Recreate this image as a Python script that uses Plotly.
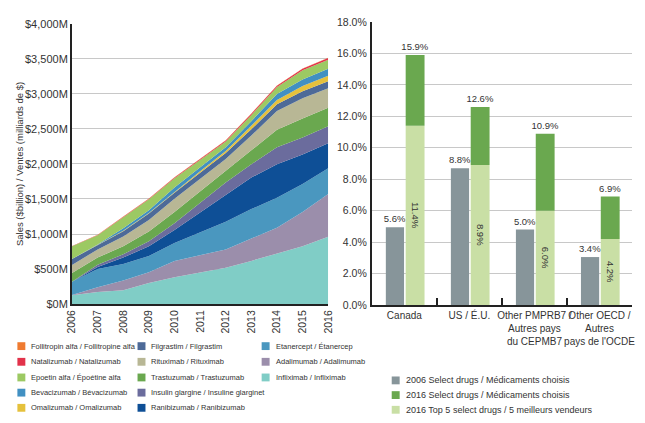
import plotly.graph_objects as go

# ---------------- data ----------------
years = [2006, 2007, 2008, 2009, 2010, 2011, 2012, 2013, 2014, 2015, 2016]

# Sales ($ millions) per drug, stacked bottom -> top
infliximab = [126, 173, 196, 299, 383, 450, 518, 616, 718, 825, 960]
adalimumab = [4, 67, 140, 154, 233, 248, 261, 320, 370, 490, 610]
etanercept = [187, 260, 234, 233, 257, 327, 397, 420, 430, 400, 370]
ranibizumab = [0, 30, 93, 140, 186, 279, 373, 450, 480, 420, 355]
insulin_glargine = [0, 30, 47, 70, 94, 141, 187, 190, 240, 245, 245]
trastuzumab = [126, 103, 116, 140, 163, 163, 163, 200, 250, 270, 265]
rituximab = [116, 116, 140, 163, 187, 180, 172, 210, 270, 290, 275]
filgrastim = [84, 66, 74, 93, 87, 86, 85, 90, 95, 98, 100]
omalizumab = [0, 0, 6, 8, 15, 22, 28, 45, 60, 75, 80]
bevacizumab = [0, 5, 37, 39, 61, 58, 56, 70, 85, 95, 100]
epoetin_alfa = [181, 132, 157, 156, 129, 107, 80, 90, 100, 130, 130]
natalizumab = [3, 5, 7, 10, 12, 14, 16, 18, 20, 22, 25]
follitropin_alfa = [3, 3, 3, 3, 3, 3, 3, 3, 3, 3, 3]

drug_names = [
    "Infliximab / Infliximab",
    "Adalimumab / Adalimumab",
    "Etanercept / Étanercep",
    "Ranibizumab / Ranibizumab",
    "Insulin glargine / Insuline glarginet",
    "Trastuzumab / Trastuzumab",
    "Rituximab / Rituximab",
    "Filgrastim / Filgrastim",
    "Omalizumab / Omalizumab",
    "Bevacizumab / Bévacizumab",
    "Epoetin alfa / Époétine alfa",
    "Natalizumab / Natalizumab",
    "Follitropin alfa / Follitropine alfa",
]
drug_series = [infliximab, adalimumab, etanercept, ranibizumab, insulin_glargine,
               trastuzumab, rituximab, filgrastim, omalizumab, bevacizumab,
               epoetin_alfa, natalizumab, follitropin_alfa]
drug_colors = ["#80cdc6", "#9b8eab", "#4a97bf", "#0e4f96", "#6b6c9d", "#6aa84f",
               "#b8b795", "#4d6a98", "#e5c13c", "#4190c2", "#9cc963", "#e2324a",
               "#ef7b31"]

countries = ["Canada", "US / É.U.", "Other PMPRB7 /<br>Autres pays<br>du CEPMB7",
             "Other OECD /<br>Autres<br>pays de l'OCDE"]
select_2006 = [4.95, 8.7, 4.8, 3.05]
select_2006_labels = ["5.6%", "8.8%", "5.0%", "3.4%"]
top5_2016 = [11.4, 8.9, 6.0, 4.2]
select_2016 = [15.9, 12.6, 10.9, 6.9]

bar_names = ["2006 Select drugs / Médicaments choisis",
             "2016 Select drugs / Médicaments choisis",
             "2016 Top 5 select drugs / 5 meilleurs vendeurs"]
bar_colors = ["#87959a", "#6aa84f", "#c9dfa5"]

# ---------------- figure ----------------
FONT = "Liberation Sans, Arial, sans-serif"
TXT = "#333333"
GRID = "#c8c8c8"

fig = go.Figure()

for name, vals, col in zip(drug_names, drug_series, drug_colors):
    fig.add_trace(go.Scatter(
        x=years, y=vals, name=name, stackgroup="sales", mode="lines",
        line=dict(width=0, color=col), fillcolor=col, showlegend=False,
        xaxis="x", yaxis="y", hoverinfo="x+y+name"))

LBL = dict(size=9.5, color=TXT, family=FONT)

fig.add_trace(go.Bar(
    x=countries, y=select_2006, name=bar_names[0],
    marker=dict(color=bar_colors[0], line=dict(width=0)),
    offset=-0.285, width=0.28, text=select_2006_labels, textposition="outside",
    textfont=LBL, constraintext="none", cliponaxis=False,
    xaxis="x2", yaxis="y2", showlegend=False))

fig.add_trace(go.Bar(
    x=countries, y=top5_2016, name=bar_names[2],
    marker=dict(color=bar_colors[2], line=dict(width=0)),
    offset=0.02, width=0.29, text=[f"{v:.1f}%" for v in top5_2016], textposition="inside",
    insidetextanchor="middle", textangle=90, textfont=LBL, constraintext="none",
    xaxis="x2", yaxis="y2", showlegend=False))

fig.add_trace(go.Bar(
    x=countries, y=[s - t for s, t in zip(select_2016, top5_2016)], base=top5_2016,
    name=bar_names[1], marker=dict(color=bar_colors[1], line=dict(width=0)),
    offset=0.02, width=0.29, text=[f"{v:.1f}%" for v in select_2016], textposition="outside",
    textfont=LBL, constraintext="none", cliponaxis=False,
    xaxis="x2", yaxis="y2", showlegend=False))

# page body has an 8px margin: lay the figure out in reference pixels minus 8
OFF = 8
W, H = 645 - OFF, 423 - OFF
L, T = 72 - OFF, 16 - OFF
R = W - (636 - OFF)
B = H - (305 - OFF)
PW, PH = W - L - R, H - T - B


def fx(px):
    return (px - OFF - L) / PW


def fy(py):
    return (H - B - (py - OFF)) / PH


fig.update_layout(
    width=W, height=H, margin=dict(l=L, r=R, t=T, b=B, pad=0),
    paper_bgcolor="white", plot_bgcolor="white", barmode="overlay",
    showlegend=False, font=dict(family=FONT, size=11, color=TXT),
    xaxis=dict(domain=[0, fx(330)], range=[2006, 2016], tickvals=years, tickangle=-90,
               showgrid=False, zeroline=False, showline=True, linecolor="#222", linewidth=2,
               ticks="", tickfont=dict(size=10.5), anchor="y"),
    yaxis=dict(domain=[fy(304), fy(18)], range=[0, 4000], dtick=500, tickprefix="$",
               ticksuffix="M", tickformat=",d", showgrid=True, gridcolor=GRID, gridwidth=1.3,
               zeroline=False, showline=True, linecolor="#222", linewidth=2, ticks="",
               tickfont=dict(size=11), anchor="x",
               title=dict(text="Sales ($billion) / Ventes (milliards de $)",
                          font=dict(size=9.5), standoff=0)),
    xaxis2=dict(domain=[fx(374), 1], type="category", categoryorder="array",
                categoryarray=countries, range=[-0.5, 3.5], showgrid=False, zeroline=False,
                showline=True, linecolor="#222", linewidth=2, ticks="inside",
                tickson="boundaries", ticklen=7, tickwidth=2, tickcolor="#222",
                tickangle=0, tickfont=dict(size=10), anchor="y2"),
    yaxis2=dict(domain=[0, 1], range=[0, 18], dtick=2, ticksuffix="%", tickformat=".1f",
                showgrid=True, gridcolor=GRID, gridwidth=1.3, zeroline=False, showline=True,
                linecolor="#222", linewidth=2, ticks="", tickfont=dict(size=10.5),
                ticklabelstandoff=1, anchor="x2"),
)

# ---------------- legends (swatches + text) ----------------
shapes = []
annotations = []


def legend_item(sq_x, cy, size, text_x, label, color, fsize):
    shapes.append(dict(type="rect", xref="paper", yref="paper",
                       x0=fx(sq_x), x1=fx(sq_x + size),
                       y0=fy(cy + size / 2), y1=fy(cy - size / 2),
                       fillcolor=color, line=dict(width=0)))
    annotations.append(dict(xref="paper", yref="paper", x=fx(text_x), y=fy(cy),
                            text=label, showarrow=False, xanchor="left", yanchor="middle",
                            font=dict(size=fsize, color=TXT, family=FONT)))


rows = [347, 363, 379, 394.5, 410]
col_sq = [17, 138, 263]
col_tx = [29, 150, 275]
columns = [[12, 11, 10, 9, 8], [7, 6, 5, 4, 3], [2, 1, 0]]
for ci, col in enumerate(columns):
    for ri, idx in enumerate(col):
        legend_item(col_sq[ci], rows[ri], 8, col_tx[ci], drug_names[idx],
                    drug_colors[idx], 7.5)

bar_rows = [382, 397, 412]
for ri, (nm, colr) in enumerate(zip(bar_names, bar_colors)):
    legend_item(394, bar_rows[ri], 8, 406, nm, colr, 9)

fig.update_layout(shapes=shapes, annotations=annotations)

fig.write_html("out.html")
